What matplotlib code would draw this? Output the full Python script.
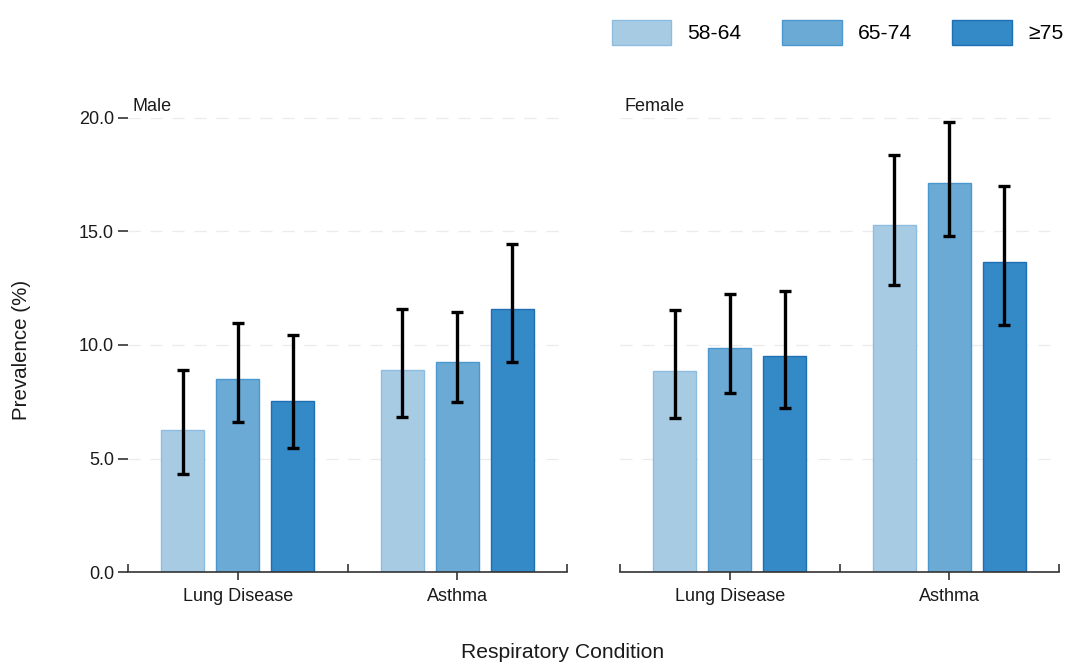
import matplotlib
matplotlib.use("Agg")
import matplotlib.pyplot as plt
import numpy as np

plt.rcParams['font.family'] = ['Liberation Sans', 'DejaVu Sans']

conditions = ["Lung Disease", "Asthma"]
age_groups = ["58-64", "65-74", "\u226575"]
panels = ["Male", "Female"]

# prevalence (%) per panel: rows = age group, columns = condition
male_vals = [[6.25, 8.90], [8.52, 9.27], [7.55, 11.57]]
male_lo = [[4.34, 6.82], [6.60, 7.49], [5.46, 9.24]]
male_hi = [[8.90, 11.57], [10.97, 11.44], [10.43, 14.43]]

female_vals = [[8.86, 15.28], [9.85, 17.14], [9.50, 13.66]]
female_lo = [[6.77, 12.66], [7.90, 14.78], [7.24, 10.90]]
female_hi = [[11.54, 18.38], [12.26, 19.82], [12.36, 17.00]]

y_ticks = [0.0, 5.0, 10.0, 15.0, 20.0]

fills = ["#a8cbe4", "#6baad5", "#3489c7"]
edges = ["#8cbde0", "#4a98cf", "#1f6fb4"]

fig = plt.figure(figsize=(10.66, 6.63), dpi=100)
W, H = 1066, 663
ymax = 20.2
bottom_px, px_per_unit = 572.3, 22.73
ax_h = ymax * px_per_unit
axes = []
for x0, x1 in [(128, 567), (620, 1059)]:
    ax = fig.add_axes([x0 / W, 1 - bottom_px / H, (x1 - x0) / W, ax_h / H])
    axes.append(ax)

data = [(male_vals, male_lo, male_hi), (female_vals, female_lo, female_hi)]
x = np.arange(len(conditions))
offsets = [-0.25, 0.0, 0.25]
width = 0.197
tick_fs = 13

for ax, name, (vals, lo, hi) in zip(axes, panels, data):
    for k, grp in enumerate(age_groups):
        v = np.array(vals[k])
        err = np.vstack([v - np.array(lo[k]), np.array(hi[k]) - v])
        ax.bar(x + offsets[k], v, width, color=fills[k], edgecolor=edges[k],
               linewidth=1.0, label=grp, zorder=2)
        ax.errorbar(x + offsets[k], v, yerr=err, fmt='none', ecolor='black',
                    elinewidth=2.4, capsize=4.5, capthick=2.4, zorder=3)
    ax.set_xlim(-0.5, 1.5)
    ax.set_ylim(0, ymax)
    ax.set_yticks(y_ticks)
    ax.yaxis.grid(True, color='#ebebeb', linestyle=(0, (9.6, 8)), linewidth=0.9, zorder=0)
    ax.xaxis.grid(False)
    for s in ['top', 'right', 'left']:
        ax.spines[s].set_visible(False)
    ax.spines['bottom'].set_color('#333333')
    ax.spines['bottom'].set_linewidth(1.2)
    ax.set_xticks(x)
    ax.set_xticklabels(conditions, fontsize=tick_fs, color='#1a1a1a')
    ax.set_xticks([-0.5, 0.5, 1.5], minor=True)
    ax.tick_params(axis='x', which='major', direction='out', length=6, width=1.2,
                   color='#333333', pad=5)
    ax.tick_params(axis='x', which='minor', direction='in', length=6, width=1.2,
                   color='#333333')
    ax.text(-0.48, 20.3, name, fontsize=tick_fs, ha='left', va='baseline',
            color='#1a1a1a', clip_on=False,
            bbox=dict(facecolor='white', edgecolor='none', pad=2.5), zorder=4)

axes[0].set_yticklabels([f"{t:.1f}" for t in y_ticks], fontsize=tick_fs, color='#1a1a1a')
axes[0].tick_params(axis='y', direction='out', length=7, width=1.2, color='#333333', pad=3)
axes[1].tick_params(axis='y', left=False, labelleft=False)

fig.text(22 / W, 1 - 350 / H, "Prevalence (%)", rotation=90, ha='center', va='center',
         fontsize=14.8, color='#1a1a1a')
fig.text(563 / W, 1 - 653 / H, "Respiratory Condition", ha='center', va='center',
         fontsize=15.2, color='#1a1a1a')

handles, labels = axes[0].get_legend_handles_labels()
fig.legend(handles, labels, loc='center right', bbox_to_anchor=(1075 / W, 1 - 32.5 / H),
           ncol=3, frameon=False, fontsize=15.2, handlelength=2.84, handleheight=1.45,
           handletextpad=0.76, columnspacing=1.9, borderaxespad=0.15)

fig.savefig("out.png", dpi=100)
